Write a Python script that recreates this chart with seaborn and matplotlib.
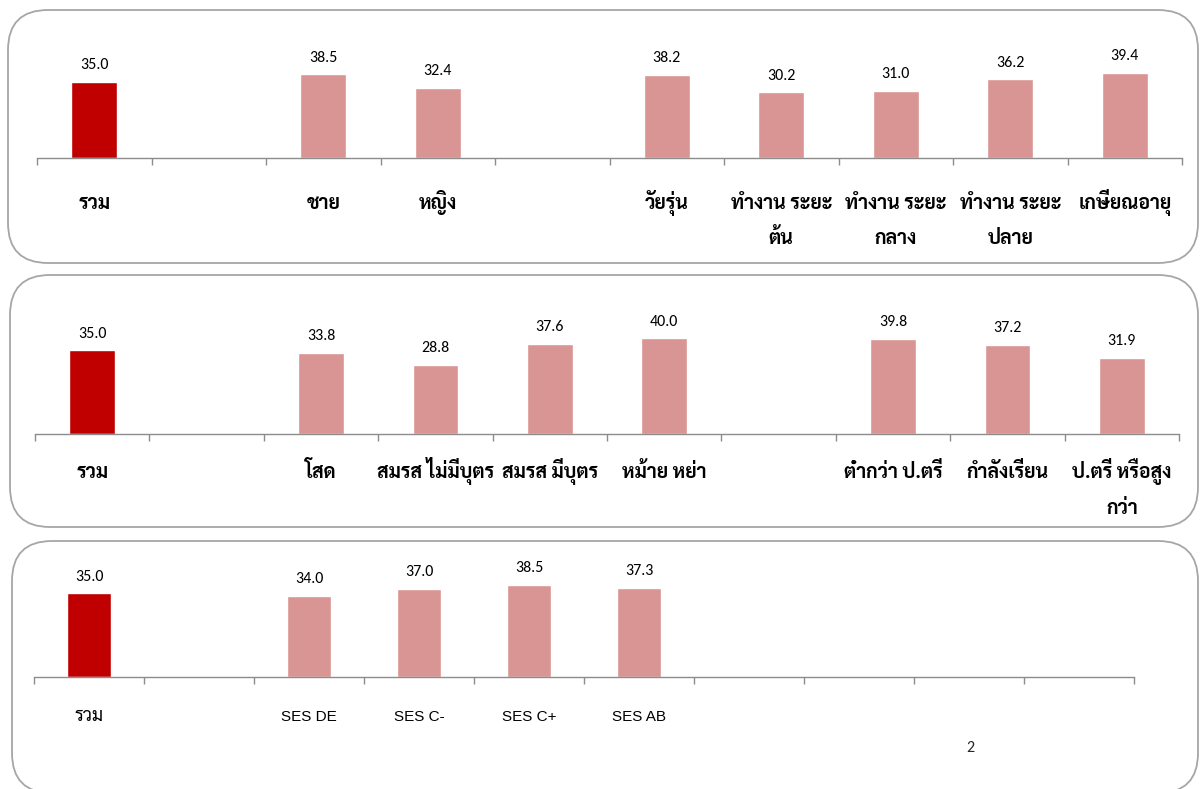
import numpy as np
import pandas as pd
import matplotlib
matplotlib.use("Agg")
import matplotlib.pyplot as plt
import seaborn as sns
from matplotlib.patches import FancyBboxPatch
from matplotlib import font_manager

sns.set_theme(style="white")
installed = {f.name for f in font_manager.fontManager.ttflist}
NUM_FONT = "Carlito" if "Carlito" in installed else "Lato"
THAI_FONT = "Sarabun"
plt.rcParams["font.family"] = [NUM_FONT, THAI_FONT, "DejaVu Sans"]

TOTAL_COLOR = "#C00000"
GROUP_COLOR = "#D99594"
AXIS_COLOR = "#8C8C8C"
FRAME_COLOR = "#A6A6A6"

# ---- data: one list of slot labels and one of values per panel ("" = empty slot)
demo_labels = ["รวม", "", "ชาย", "หญิง", "", "วัยรุ่น",
               "ทำงาน ระยะ\nต้น", "ทำงาน ระยะ\nกลาง", "ทำงาน ระยะ\nปลาย", "เกษียณอายุ"]
demo_values = [35.0, None, 38.5, 32.4, None, 38.2, 30.2, 31.0, 36.2, 39.4]

status_labels = ["รวม", "", "โสด", "สมรส ไม่มีบุตร", "สมรส มีบุตร", "หม้าย หย่า", "",
                 "ต่ำกว่า ป.ตรี", "กำลังเรียน", "ป.ตรี หรือสูง\nกว่า"]
status_values = [35.0, None, 33.8, 28.8, 37.6, 40.0, None, 39.8, 37.2, 31.9]

ses_labels = ["รวม", "", "SES DE", "SES C-", "SES C+", "SES AB", "", "", "", ""]
ses_values = [35.0, None, 34.0, 37.0, 38.5, 37.3, None, None, None, None]

W, H = 1200, 789
fig = plt.figure(figsize=(W / 100, H / 100), dpi=100)
fig.patch.set_facecolor("white")

# rounded frames around each panel (inches, from the figure's lower-left)
frames = [(0.08, (H - 263) / 100, 11.90, 2.53),
          (0.10, (H - 527) / 100, 11.88, 2.52),
          (0.12, (H - 793) / 100, 11.86, 2.52)]
for x0, y0, w, h in frames:
    fig.add_artist(FancyBboxPatch((x0, y0), w, h,
                                  boxstyle="round,pad=0,rounding_size=0.40",
                                  transform=fig.dpi_scale_trans, fill=False,
                                  ec=FRAME_COLOR, lw=1.3, zorder=0))

YMAX = 45.0
LINE_GAP = 25.5  # points between wrapped label lines


def is_thai(text):
    return any("\u0e00" <= ch <= "\u0e7f" for ch in text)


def panel(left_px, right_px, base_px, px_per_unit, labels, values,
          label_drop, style):
    height_px = YMAX * px_per_unit
    ax = fig.add_axes([left_px / W, (H - base_px) / H,
                       (right_px - left_px) / W, height_px / H])
    slots = [f"s{i}" for i in range(len(labels))]
    df = pd.DataFrame({"slot": slots, "value": values,
                       "kind": ["total" if i == 0 else "group" for i in range(len(slots))]})
    df = df.dropna(subset=["value"])
    sns.barplot(data=df, x="slot", y="value", hue="kind", order=slots,
                palette={"total": TOTAL_COLOR, "group": GROUP_COLOR},
                width=0.4, dodge=False, legend=False, saturation=1,
                ax=ax)
    ax.set_facecolor("none")
    ax.set_xlim(-0.5, len(slots) - 0.5)
    ax.set_ylim(0, YMAX)
    ax.set_xlabel("")
    ax.set_ylabel("")
    ax.set_yticks([])
    ax.set_xticks(np.arange(-0.5, len(slots), 1.0))
    ax.set_xticklabels([])
    ax.tick_params(axis="x", bottom=True, length=5, width=1, color=AXIS_COLOR,
                   direction="out")
    sns.despine(ax=ax, left=True)
    ax.spines["bottom"].set_color(AXIS_COLOR)
    ax.spines["bottom"].set_linewidth(1.0)

    for i, v in enumerate(values):
        if v is None:
            continue
        ax.annotate(f"{v:.1f}", xy=(i, v), xytext=(0, 7), textcoords="offset points",
                    ha="center", va="bottom", fontsize=11.5, color="black",
                    family=[NUM_FONT, "DejaVu Sans"])
    for i, lab in enumerate(labels):
        if not lab:
            continue
        for k, line in enumerate(lab.split("\n")):
            if is_thai(line):
                fam, size, weight = style["thai"]
            else:
                fam, size, weight = style["latin"]
            ax.annotate(line, xy=(i, 0), xycoords=("data", "axes fraction"),
                        xytext=(0, -label_drop - k * LINE_GAP), textcoords="offset points",
                        ha="center", va="baseline", fontsize=size, fontweight=weight,
                        family=fam, color="black")
    return ax


bold_thai = {"thai": ([THAI_FONT, "DejaVu Sans"], 14, "bold"),
             "latin": ([THAI_FONT, "DejaVu Sans"], 14, "bold")}
plain_mixed = {"thai": ([THAI_FONT, "DejaVu Sans"], 13, "normal"),
               "latin": (["Liberation Sans", "DejaVu Sans"], 11, "normal")}

panel(37, 1182, 158, 2.17, demo_labels, demo_values, 36.5, bold_thai)
panel(35, 1179, 434, 2.39, status_labels, status_values, 32.0, bold_thai)
panel(34, 1134, 677, 2.39, ses_labels, ses_values, 32.0, plain_mixed)

fig.text(970 / W, 1 - 748 / H, "2", ha="center", va="center", fontsize=11.5,
         family=[NUM_FONT, "DejaVu Sans"])

fig.savefig("out.png", dpi=100, facecolor="white")
